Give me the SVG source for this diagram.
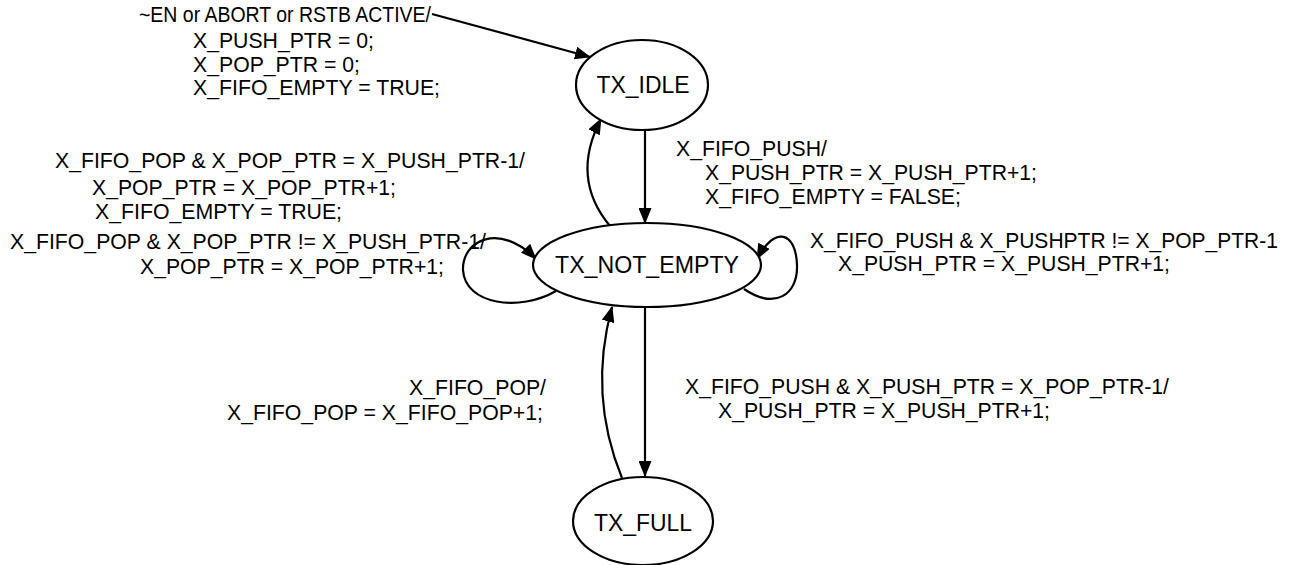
<svg xmlns="http://www.w3.org/2000/svg" width="1297" height="565" viewBox="0 0 1297 565">
<style>
  .lbl { font-family: "Liberation Sans", Arial, sans-serif; font-size: 21.5px; fill: #000; }
  .st { font-family: "Liberation Sans", Arial, sans-serif; font-size: 24px; fill: #000; text-anchor: middle; }
  .node { fill: #fff; stroke: #000; stroke-width: 2.2; }
  .conn { fill: none; stroke: #000; stroke-width: 2.2; }
</style>
<defs>
  <marker id="ah" viewBox="0 0 16 13" refX="15" refY="6.5" markerWidth="16" markerHeight="13" orient="auto" markerUnits="userSpaceOnUse">
    <path d="M0,0 L16,6.5 L0,13 z" fill="#000"/>
  </marker>
</defs>
<rect width="1297" height="565" fill="#fff"/>

<g id="connectors">
  <path class="conn" d="M432,14 L590,57" marker-end="url(#ah)"/>
  <path class="conn" d="M645,130 L645,223" marker-end="url(#ah)"/>
  <path class="conn" d="M610,226 Q570,178 601,119" marker-end="url(#ah)"/>
  <path class="conn" d="M556,291 C520,312 465,305 463,270 C462,240 500,222 536,259" marker-end="url(#ah)"/>
  <path class="conn" d="M744,289 C775,310 798,295 797,265 C796,232 775,225 757,259" marker-end="url(#ah)"/>
  <path class="conn" d="M645,307 L645,476" marker-end="url(#ah)"/>
  <path class="conn" d="M622,478 Q588,395 612,307" marker-end="url(#ah)"/>
</g>

<g id="TX_IDLE">
  <ellipse class="node" cx="642" cy="85" rx="66" ry="45"/>
  <text class="st" x="643" y="93" textLength="93" lengthAdjust="spacingAndGlyphs">TX_IDLE</text>
</g>
<g id="TX_NOT_EMPTY">
  <ellipse class="node" cx="647" cy="265" rx="114" ry="42"/>
  <text class="st" x="647" y="273" textLength="184" lengthAdjust="spacingAndGlyphs">TX_NOT_EMPTY</text>
</g>
<g id="TX_FULL">
  <ellipse class="node" cx="643" cy="521" rx="70" ry="44"/>
  <text class="st" x="643" y="531" textLength="98" lengthAdjust="spacingAndGlyphs">TX_FULL</text>
</g>

<g id="labels">
  <text class="lbl" x="139" y="22" textLength="292" lengthAdjust="spacingAndGlyphs">~EN or ABORT or RSTB ACTIVE/</text>
  <text class="lbl" x="193" y="48" textLength="181" lengthAdjust="spacingAndGlyphs">X_PUSH_PTR = 0;</text>
  <text class="lbl" x="193" y="72" textLength="167" lengthAdjust="spacingAndGlyphs">X_POP_PTR = 0;</text>
  <text class="lbl" x="193" y="95" textLength="247" lengthAdjust="spacingAndGlyphs">X_FIFO_EMPTY = TRUE;</text>

  <text class="lbl" x="55" y="168" textLength="470" lengthAdjust="spacingAndGlyphs">X_FIFO_POP &amp; X_POP_PTR = X_PUSH_PTR-1/</text>
  <text class="lbl" x="92" y="195" textLength="304" lengthAdjust="spacingAndGlyphs">X_POP_PTR = X_POP_PTR+1;</text>
  <text class="lbl" x="95" y="219" textLength="247" lengthAdjust="spacingAndGlyphs">X_FIFO_EMPTY = TRUE;</text>

  <text class="lbl" x="676" y="156" textLength="151" lengthAdjust="spacingAndGlyphs">X_FIFO_PUSH/</text>
  <text class="lbl" x="705" y="180" textLength="332" lengthAdjust="spacingAndGlyphs">X_PUSH_PTR = X_PUSH_PTR+1;</text>
  <text class="lbl" x="705" y="204" textLength="256" lengthAdjust="spacingAndGlyphs">X_FIFO_EMPTY = FALSE;</text>

  <text class="lbl" x="10" y="249" textLength="476" lengthAdjust="spacingAndGlyphs">X_FIFO_POP &amp; X_POP_PTR != X_PUSH_PTR-1/</text>
  <text class="lbl" x="140" y="274" textLength="304" lengthAdjust="spacingAndGlyphs">X_POP_PTR = X_POP_PTR+1;</text>

  <text class="lbl" x="810" y="248" textLength="468" lengthAdjust="spacingAndGlyphs">X_FIFO_PUSH &amp; X_PUSHPTR != X_POP_PTR-1</text>
  <text class="lbl" x="838" y="271" textLength="332" lengthAdjust="spacingAndGlyphs">X_PUSH_PTR = X_PUSH_PTR+1;</text>

  <text class="lbl" x="409" y="395" textLength="137" lengthAdjust="spacingAndGlyphs">X_FIFO_POP/</text>
  <text class="lbl" x="227" y="420" textLength="316" lengthAdjust="spacingAndGlyphs">X_FIFO_POP = X_FIFO_POP+1;</text>

  <text class="lbl" x="685" y="394" textLength="484" lengthAdjust="spacingAndGlyphs">X_FIFO_PUSH &amp; X_PUSH_PTR = X_POP_PTR-1/</text>
  <text class="lbl" x="718" y="418" textLength="332" lengthAdjust="spacingAndGlyphs">X_PUSH_PTR = X_PUSH_PTR+1;</text>
</g>
</svg>
